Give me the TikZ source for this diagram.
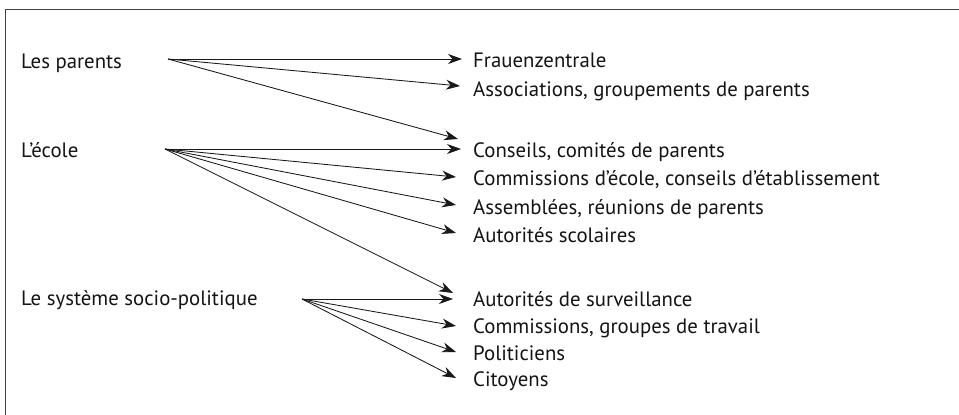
\documentclass[tikz,border=0pt]{standalone}
\usepackage{fontspec}
\setmainfont{PT Sans}
\usetikzlibrary{arrows.meta}
\begin{document}
\begin{tikzpicture}[x=1pt,y=-1pt,
  lbl/.style={anchor=base west,inner sep=0pt,font=\fontsize{20.8}{24}\selectfont,text=black!92},
  link/.style={line width=0.85pt,draw=black!90,-{Stealth[length=14pt,width=10pt,inset=4.5pt]}},
  frame/.style={line width=1.4pt,draw=black!75}]
\useasboundingbox (0,0) rectangle (959,415);
\draw[frame] (5.5,9.5) rectangle (975,430);

% sources
\node[lbl] (par) at (21,68.5) {Les parents};
\node[lbl] (eco) at (21,157.5) {L’école};
\node[lbl] (sys) at (21,305.5) {Le système socio-politique};
\coordinate (sPar) at (168,59);
\coordinate (sEco) at (165,149);
\coordinate (sSys) at (302,299);

% targets
\node[lbl] (t1) at (473,67) {Frauenzentrale};
\node[lbl] (t2) at (473,96) {Associations, groupements de parents};
\node[lbl] (t3) at (473,157) {Conseils, comités de parents};
\node[lbl] (t4) at (473,185) {Commissions d’école, conseils d’établissement};
\node[lbl] (t5) at (473,214) {Assemblées, réunions de parents};
\node[lbl] (t6) at (473,242) {Autorités scolaires};
\node[lbl] (t7) at (473,306) {Autorités de surveillance};
\node[lbl] (t8) at (473,333) {Commissions, groupes de travail};
\node[lbl] (t9) at (473,360) {Politiciens};
\node[lbl] (t10) at (473,386) {Citoyens};

% arrow tips
\coordinate (e1) at (462,59);
\coordinate (e2) at (460,86);
\coordinate (e3a) at (458,139);
\coordinate (e3) at (461,149);
\coordinate (e4) at (456,177);
\coordinate (e5) at (456,205);
\coordinate (e6) at (456,233);
\coordinate (e7a) at (453,293);
\coordinate (e7) at (453,299);
\coordinate (e8) at (456,326);
\coordinate (e9) at (456,352);
\coordinate (e10) at (456,378);

\foreach \e in {e1,e2,e3a} \draw[link] (sPar) -- (\e);
\foreach \e in {e3,e4,e5,e6,e7a} \draw[link] (sEco) -- (\e);
\foreach \e in {e7,e8,e9,e10} \draw[link] (sSys) -- (\e);
\end{tikzpicture}
\end{document}
